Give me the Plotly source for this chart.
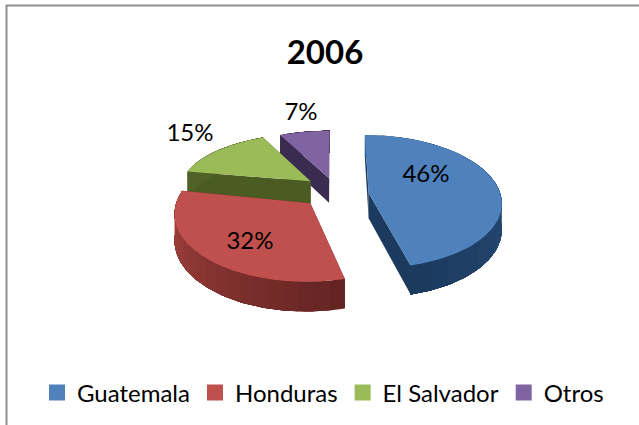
import numpy as np
import plotly.graph_objects as go

title = "2006"
categories = ["Guatemala", "Honduras", "El Salvador", "Otros"]
values = [46, 32, 15, 7]
top_colors = ["#4F81BD", "#C0504D", "#9BBB59", "#8064A2"]
rim_start = [(48, 92, 142), (100, 36, 34), (80, 98, 40), (60, 44, 80)]
rim_end = [(28, 58, 94), (170, 68, 64), (80, 98, 40), (60, 44, 80)]
wall_colors = ["#1C3A5E", "#5E2321", "#4A5C22", "#3A2B50"]
slice_shift = [(0, 0), (-0.02, 0.06), (0, 0.06), (0, 0.02)]
rim_v_scale = [1, 1, 0.85, 0.85]
label_xy = [(426, 176), (250, 243), (190, 135), (301, 114)]

W, H = 639, 425
X0, Y0 = 336, 195
RX, RY, PERSP, DEPTH, EXPLODE = 132, 66, 0.13, 25.5, 0.25


def project(u, v, z=0.0):
    s = 1 + PERSP * np.asarray(v, dtype=float)
    return X0 + RX * np.asarray(u) / s, Y0 + (-RY * np.asarray(v) + DEPTH * z) / s


fractions = np.array(values) / sum(values)
ends = np.cumsum(fractions) * 2 * np.pi
starts = ends - fractions * 2 * np.pi
fig = go.Figure()


def poly(xs, ys, color):
    fig.add_trace(go.Scatter(x=xs, y=ys, mode="lines", fill="toself", fillcolor=color,
                             line=dict(color=color, width=0), hoverinfo="skip", showlegend=False))


for i in [3, 2, 0, 1]:
    a0, a1 = starts[i], ends[i]
    mid = (a0 + a1) / 2
    cu = EXPLODE * np.sin(mid) + slice_shift[i][0]
    cv = EXPLODE * np.cos(mid) + slice_shift[i][1]
    t = np.linspace(a0, a1, 81)
    ru, rv = cu + np.sin(t), cv + rim_v_scale[i] * np.cos(t)
    cx, cy = project(cu, cv)
    cxb, cyb = project(cu, cv, 1)
    xt, yt = project(ru, rv)
    xb, yb = project(ru, rv, 1)
    poly([cx, xt[0], xb[0], cxb, cx], [cy, yt[0], yb[0], cyb, cy], wall_colors[i])
    poly([cx, xt[-1], xb[-1], cxb, cx], [cy, yt[-1], yb[-1], cyb, cy], wall_colors[i])
    # rim shading: each band runs to the far end of the slice, so no seams show
    for k in range(0, 80, 4):
        f = k / 76
        c = tuple(int(round(a + (b - a) * f)) for a, b in zip(rim_start[i], rim_end[i]))
        poly(np.r_[xt[k:], xb[k:][::-1]], np.r_[yt[k:], yb[k:][::-1]], "rgb(%d,%d,%d)" % c)
    poly(np.r_[cx, xt, cx], np.r_[cy, yt, cy], top_colors[i])

for i, name in enumerate(categories):
    fig.add_trace(go.Scatter(x=[None], y=[None], mode="markers", name=name,
                             marker=dict(symbol="square", size=16, color=top_colors[i])))

fig.add_trace(go.Scatter(x=[p[0] for p in label_xy], y=[p[1] for p in label_xy], mode="text",
                         text=[f"{v}%" for v in values], textposition="middle center",
                         textfont=dict(family="Lato", size=24, color="#000000"),
                         hoverinfo="skip", showlegend=False))

fig.update_layout(
    width=W, height=H, autosize=False, margin=dict(l=0, r=0, t=0, b=0),
    paper_bgcolor="white", plot_bgcolor="white",
    xaxis=dict(range=[0, W], visible=False, fixedrange=True),
    yaxis=dict(range=[H, 0], visible=False, fixedrange=True),
    title=dict(text=f"<b>{title}</b>", x=325 / W, y=1 - 52 / H, xanchor="center", yanchor="middle",
               font=dict(family="Lato", size=33, color="#000000")),
    legend=dict(orientation="h", x=323 / W, xanchor="center", y=1 - 393 / H, yanchor="middle",
                font=dict(family="Lato", size=24, color="#000000"), itemwidth=30,
                bgcolor="rgba(0,0,0,0)"),
    shapes=[dict(type="rect", xref="paper", yref="paper", x0=6.5 / W, x1=1.2, y0=-0.2, y1=1 - 5.5 / H,
                 line=dict(color="#8F8F8F", width=2), fillcolor="rgba(0,0,0,0)", layer="below")],
)
fig.write_html("out.html", config={"displayModeBar": False},
               post_script="document.body.style.margin='0';document.documentElement.style.overflow='hidden';")
